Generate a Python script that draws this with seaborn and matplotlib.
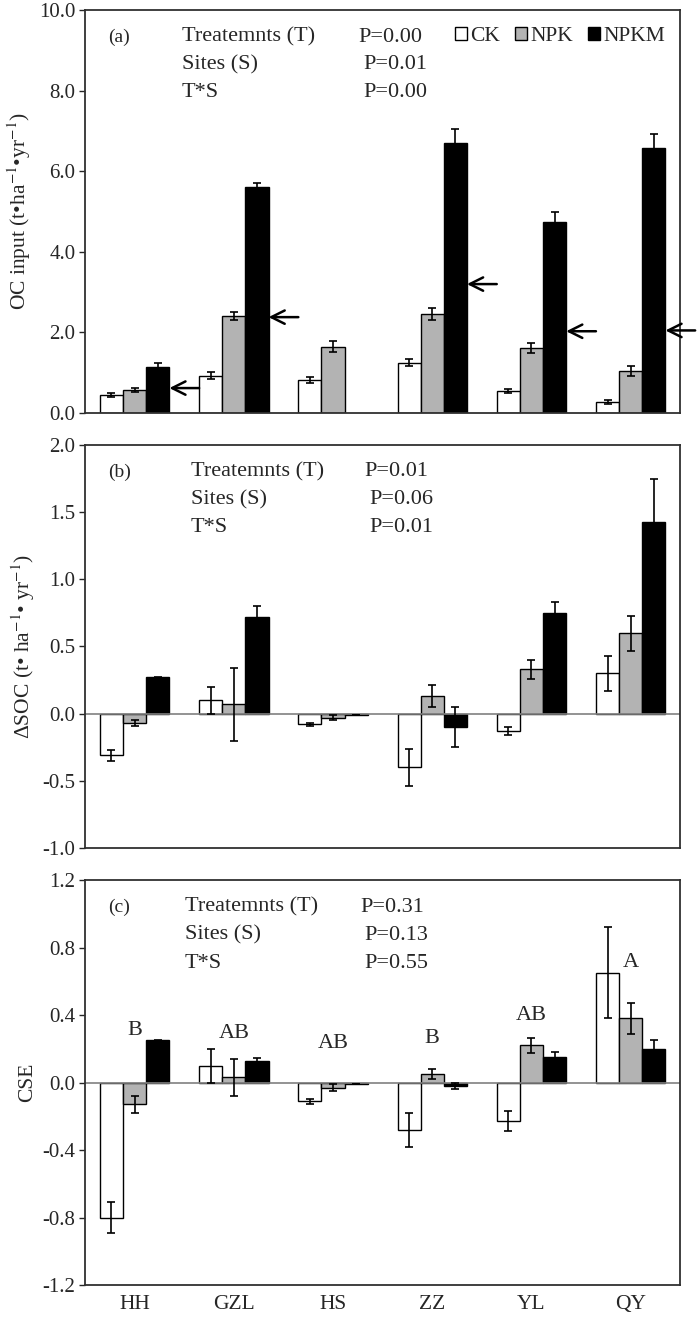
import numpy as np
import pandas as pd
import matplotlib
matplotlib.use('Agg')
import matplotlib.pyplot as plt
from matplotlib.patches import Patch
from matplotlib.container import BarContainer
from matplotlib.ticker import FormatStrFormatter, MultipleLocator
import seaborn as sns

sns.set_style('white')
plt.rcParams['font.family'] = ['Liberation Serif', 'DejaVu Serif']
plt.rcParams['mathtext.fontset'] = 'stix'
plt.rcParams['axes.unicode_minus'] = False

sites = ['HH', 'GZL', 'HS', 'ZZ', 'YL', 'QY']
treatments = ['CK', 'NPK', 'NPKM']
colors = ['white', '#b3b3b3', 'black']

# (a) OC input, t ha-1 yr-1 (HS has no NPKM)
oc_ck = [0.45, 0.93, 0.82, 1.25, 0.55, 0.28]
oc_npk = [0.58, 2.40, 1.65, 2.45, 1.62, 1.05]
oc_npkm = [1.15, 5.62, np.nan, 6.70, 4.75, 6.58]
oc_ck_err = [0.05, 0.08, 0.07, 0.09, 0.04, 0.05]
oc_npk_err = [0.05, 0.10, 0.13, 0.15, 0.12, 0.12]
oc_npkm_err = [0.10, 0.08, np.nan, 0.35, 0.25, 0.35]
# arrow levels next to NPKM bars
arrow_levels = [0.62, 2.38, np.nan, 3.20, 2.03, 2.05]

# (b) delta SOC
soc_ck = [-0.31, 0.10, -0.08, -0.40, -0.13, 0.30]
soc_npk = [-0.07, 0.07, -0.03, 0.13, 0.33, 0.60]
soc_npkm = [0.27, 0.72, -0.01, -0.10, 0.75, 1.43]
soc_ck_err = [0.04, 0.10, 0.01, 0.14, 0.03, 0.13]
soc_npk_err = [0.02, 0.27, 0.02, 0.08, 0.07, 0.13]
soc_npkm_err = [0.005, 0.08, 0.0, 0.15, 0.08, 0.32]

# (c) CSE
cse_ck = [-0.80, 0.10, -0.11, -0.28, -0.23, 0.65]
cse_npk = [-0.13, 0.03, -0.03, 0.05, 0.22, 0.38]
cse_npkm = [0.25, 0.13, -0.01, -0.02, 0.15, 0.20]
cse_ck_err = [0.09, 0.10, 0.015, 0.10, 0.06, 0.27]
cse_npk_err = [0.05, 0.11, 0.02, 0.03, 0.045, 0.09]
cse_npkm_err = [0.005, 0.015, 0.0, 0.02, 0.03, 0.05]
cse_letters = ['B', 'AB', 'AB', 'B', 'AB', 'A']
cse_letter_y = [0.31, 0.29, 0.23, 0.26, 0.40, 0.71]

stats_a = [('Treatemnts (T)', 'P=0.00'), ('Sites (S)', 'P=0.01'), ('T*S', 'P=0.00')]
stats_b = [('Treatemnts (T)', 'P=0.01'), ('Sites (S)', 'P=0.06'), ('T*S', 'P=0.01')]
stats_c = [('Treatemnts (T)', 'P=0.31'), ('Sites (S)', 'P=0.13'), ('T*S', 'P=0.55')]


def make_df(vals):
    rows = []
    for trt, v in zip(treatments, vals):
        for s, y in zip(sites, v):
            rows.append([s, trt, y])
    return pd.DataFrame(rows, columns=['Site', 'Treatment', 'Value'])


def draw_panel(ax, vals, errs):
    df = make_df(vals)
    sns.barplot(data=df, x='Site', y='Value', hue='Treatment', order=sites,
                hue_order=treatments, palette=colors, edgecolor='black',
                linewidth=1.0, errorbar=None, width=0.7, legend=False, ax=ax)
    bar_sets = [c for c in ax.containers if isinstance(c, BarContainer)]
    for i, cont in enumerate(bar_sets):
        for bar in cont:
            xc = bar.get_x() + bar.get_width() / 2
            j = int(round(xc))
            v, e = vals[i][j], errs[i][j]
            if np.isnan(v):
                continue
            ax.errorbar(xc, v, yerr=e, fmt='none', ecolor='black',
                        elinewidth=1.2, capsize=3, capthick=1.2, zorder=5)
    return bar_sets


def style(ax, lo, hi, step, ylabel, tag, stats, tx, px):
    ax.set_ylim(lo, hi)
    ax.set_xlim(-0.5, 5.5)
    ax.yaxis.set_major_locator(MultipleLocator(step))
    ax.yaxis.set_major_formatter(FormatStrFormatter('%.1f'))
    ax.tick_params(axis='y', direction='out', length=4, width=1, left=True,
                   labelsize=15, pad=3)
    ax.tick_params(axis='x', length=0, labelsize=15.5, pad=7)
    ax.set_xlabel('')
    ax.set_ylabel(ylabel, fontsize=15.5, labelpad=4)
    for sp in ax.spines.values():
        sp.set_color('#303030')
        sp.set_linewidth(1.3)
    ax.text(0.038, 0.933, tag, transform=ax.transAxes, fontsize=14,
            va='center', ha='left')
    ys = [0.933, 0.864, 0.795]
    for k, ((name, p), y) in enumerate(zip(stats, ys)):
        ax.text(tx, y, name, transform=ax.transAxes, fontsize=16,
                va='center', ha='left')
        ax.text(px + (0.008 if k > 0 else 0), y, p, transform=ax.transAxes,
                fontsize=16, va='center', ha='left')


fig = plt.figure(figsize=(6.97, 13.18), dpi=100)
ax_a = fig.add_axes([0.122, 0.6866, 0.854, 0.3058])
ax_b = fig.add_axes([0.122, 0.3566, 0.854, 0.3058])
ax_c = fig.add_axes([0.122, 0.0250, 0.854, 0.3073])

# panel (a)
bars_a = draw_panel(ax_a, [oc_ck, oc_npk, oc_npkm], [oc_ck_err, oc_npk_err, oc_npkm_err])
style(ax_a, 0, 10, 2, 'OC input (t•ha$^{-1}$•yr$^{-1}$)', '(a)', stats_a, 0.163, 0.459)
ax_a.set_xticklabels([])
for bar in bars_a[2]:
    xr = bar.get_x() + bar.get_width()
    j = int(round(bar.get_x() + bar.get_width() / 2))
    if np.isnan(arrow_levels[j]) or np.isnan(bar.get_height()):
        continue
    ax_a.annotate('', xy=(xr, arrow_levels[j]), xytext=(xr + 0.3, arrow_levels[j]),
                  arrowprops=dict(arrowstyle='->', lw=1.8, color='black',
                                  mutation_scale=24, shrinkA=0, shrinkB=0),
                  annotation_clip=False)
handles = [Patch(facecolor=c, edgecolor='black', linewidth=1) for c in colors]
ax_a.legend(handles, treatments, loc='upper right', ncol=3, frameon=False,
            fontsize=15.5, handlelength=0.55, handleheight=0.55, handletextpad=0.15,
            columnspacing=0.7, borderaxespad=0.3, bbox_to_anchor=(1.0, 0.995))

# panel (b)
draw_panel(ax_b, [soc_ck, soc_npk, soc_npkm], [soc_ck_err, soc_npk_err, soc_npkm_err])
style(ax_b, -1.0, 2.0, 0.5, 'ΔSOC (t• ha$^{-1}$• yr$^{-1}$)', '(b)', stats_b, 0.178, 0.470)
ax_b.axhline(0, color='#808080', lw=1.2, zorder=1)
ax_b.set_xticklabels([])

# panel (c)
draw_panel(ax_c, [cse_ck, cse_npk, cse_npkm], [cse_ck_err, cse_npk_err, cse_npkm_err])
style(ax_c, -1.2, 1.2, 0.4, 'CSE', '(c)', stats_c, 0.168, 0.462)
ax_c.axhline(0, color='#808080', lw=1.2, zorder=1)
for j, (lab, y) in enumerate(zip(cse_letters, cse_letter_y)):
    ax_c.text(j, y, lab, ha='center', va='center', fontsize=16)

fig.savefig('out.png', dpi=100)
